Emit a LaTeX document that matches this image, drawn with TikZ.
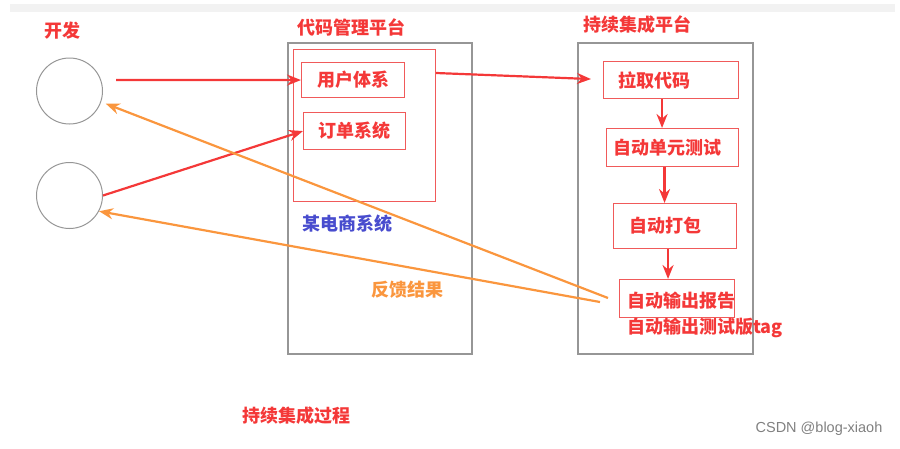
\documentclass[tikz,border=0pt]{standalone}
\usepackage{fontspec}
\setmainfont{Noto Sans CJK SC}
\setsansfont{Liberation Sans}
\usetikzlibrary{arrows.meta}

\definecolor{hotred}{RGB}{244,56,56}
\definecolor{pinkline}{RGB}{240,90,90}
\definecolor{amber}{RGB}{250,150,62}
\definecolor{shopblue}{RGB}{72,76,206}
\definecolor{framegray}{RGB}{150,150,150}

\tikzset{
  lbl/.style={font=\fontsize{18}{26}\selectfont\bfseries, inner sep=0pt},
  dev/.style={circle, draw=framegray, line width=1pt, minimum size=66pt, inner sep=0pt},
  platform/.style={draw=framegray, line width=1.3pt},
  pinkbox/.style={draw=pinkline, line width=1.1pt, anchor=north west, inner sep=0pt},
  sysbox/.style={pinkbox, lbl, text=hotred},
  stepbox/.style={sysbox, align=left, inner ysep=0pt},
  push/.style={draw=hotred, line width=2.2pt, -{Stealth[length=14pt,width=11pt]}},
  feedback/.style={draw=amber, line width=2.2pt, -{Stealth[length=14pt,width=11pt]}}
}

\begin{document}
\begin{tikzpicture}[x=1pt,y=-1pt]
  \useasboundingbox (0,0) rectangle (900,448);
  \fill[gray!10] (10,4) rectangle (895,12);

  % developers
  \node[lbl, text=hotred] (devtitle) at (62,31) {开发};
  \node[dev] (dev1) at (69.5,91) {};
  \node[dev] (dev2) at (69.5,195.5) {};

  % code platform
  \node[lbl, text=hotred] (codetitle) at (351,27) {代码管理平台};
  \draw[platform] (288,43) rectangle (472,354);
  \node[pinkbox, minimum width=142pt, minimum height=152pt] (shop) at (293,49) {};
  \node[sysbox, minimum width=103pt, minimum height=35pt] (user) at (301,62) {用户体系};
  \node[sysbox, minimum width=102pt, minimum height=37pt] (order) at (303,112) {订单系统};
  \node[lbl, text=shopblue] (shoptitle) at (347,224) {某电商系统};
  \node[lbl, text=amber] (fbtitle) at (407,290) {反馈结果};

  % ci platform
  \node[lbl, text=hotred] (cititle) at (637,25) {持续集成平台};
  \draw[platform] (578,43) rectangle (753,354);
  \node[stepbox, inner xsep=15pt, text width=105pt, minimum height=37pt] (pull) at (603,61) {拉取代码};
  \node[stepbox, inner xsep=7pt, text width=118pt, minimum height=38pt] (unit) at (606,128) {自动单元测试};
  \node[stepbox, inner xsep=16pt, text width=91pt, minimum height=45pt] (pack) at (613,203) {自动打包};
  \node[pinkbox, minimum width=115pt, minimum height=38pt] (report) at (619,279) {};
  \node[lbl, text=hotred, anchor=north west, align=left] (reporttext) at (627,292) {自动输出报告\\自动输出测试版tag};

  \node[lbl, text=hotred] (process) at (296,416) {持续集成过程};
  \node[font=\sffamily\fontsize{14.5}{16}\selectfont, text=gray, inner sep=0pt] (mark) at (819,429) {CSDN @blog-xiaoh};

  % connectors
  \coordinate (devout) at (116,80);
  \draw[push] (devout) -- (user.west);
  \draw[push] (dev2.east) -- (order.west);
  \draw[push] ([yshift=-24pt]shop.north east) -- ([xshift=-12pt,yshift=1pt]pull.west);
  \draw[push] ([xshift=-9pt]pull.south) -- ([xshift=-9pt]pull.south |- unit.north);
  \draw[push] ([xshift=-8pt]unit.south) -- ([xshift=-8pt]unit.south |- pack.north);
  \draw[push] ([xshift=-7pt]pack.south) -- ([xshift=-7pt]pack.south |- report.north);

  \coordinate (fb1) at (608,298);
  \coordinate (fb2) at (600,302);
  \draw[feedback, shorten >=5pt] (fb1) -- (dev1.-19);
  \draw[feedback] (fb2) -- (dev2.-28);
\end{tikzpicture}
\end{document}
